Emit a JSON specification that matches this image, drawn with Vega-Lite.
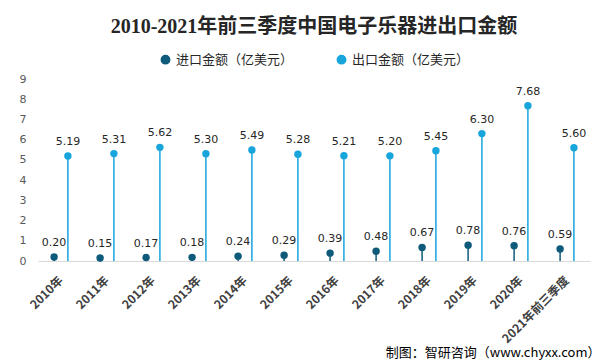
{
  "$schema": "https://vega.github.io/schema/vega-lite/v6.json",
  "width": 552,
  "height": 182,
  "autosize": {"type": "none"},
  "padding": {"left": 38, "top": 79, "right": 15, "bottom": 103},
  "background": "#ffffff",
  "title": {
    "text": "2010-2021年前三季度中国电子乐器进出口金额",
    "font": "Liberation Serif, Noto Sans CJK SC",
    "fontSize": 20,
    "fontWeight": "bold",
    "color": "#262626",
    "anchor": "middle",
    "offset": 16
  },
  "config": {
    "view": {"stroke": null},
    "legend": {"layout": {"top": {"anchor": "middle"}}}
  },
  "data": {
    "values": [
      {"year": "2010年", "type": "进口金额（亿美元）", "value": 0.20},
      {"year": "2011年", "type": "进口金额（亿美元）", "value": 0.15},
      {"year": "2012年", "type": "进口金额（亿美元）", "value": 0.17},
      {"year": "2013年", "type": "进口金额（亿美元）", "value": 0.18},
      {"year": "2014年", "type": "进口金额（亿美元）", "value": 0.24},
      {"year": "2015年", "type": "进口金额（亿美元）", "value": 0.29},
      {"year": "2016年", "type": "进口金额（亿美元）", "value": 0.39},
      {"year": "2017年", "type": "进口金额（亿美元）", "value": 0.48},
      {"year": "2018年", "type": "进口金额（亿美元）", "value": 0.67},
      {"year": "2019年", "type": "进口金额（亿美元）", "value": 0.78},
      {"year": "2020年", "type": "进口金额（亿美元）", "value": 0.76},
      {"year": "2021年前三季度", "type": "进口金额（亿美元）", "value": 0.59},
      {"year": "2010年", "type": "出口金额（亿美元）", "value": 5.19},
      {"year": "2011年", "type": "出口金额（亿美元）", "value": 5.31},
      {"year": "2012年", "type": "出口金额（亿美元）", "value": 5.62},
      {"year": "2013年", "type": "出口金额（亿美元）", "value": 5.30},
      {"year": "2014年", "type": "出口金额（亿美元）", "value": 5.49},
      {"year": "2015年", "type": "出口金额（亿美元）", "value": 5.28},
      {"year": "2016年", "type": "出口金额（亿美元）", "value": 5.21},
      {"year": "2017年", "type": "出口金额（亿美元）", "value": 5.20},
      {"year": "2018年", "type": "出口金额（亿美元）", "value": 5.45},
      {"year": "2019年", "type": "出口金额（亿美元）", "value": 6.30},
      {"year": "2020年", "type": "出口金额（亿美元）", "value": 7.68},
      {"year": "2021年前三季度", "type": "出口金额（亿美元）", "value": 5.60}
    ]
  },
  "encoding": {
    "x": {
      "field": "year",
      "type": "nominal",
      "sort": null,
      "scale": {"paddingInner": 0.4, "paddingOuter": 0.2},
      "axis": {
        "title": "制图：智研咨询（www.chyxx.com）",
        "titleAnchor": "end",
        "titleAlign": "right",
        "titleX": 562,
        "titleY": 91,
        "titleBaseline": "middle",
        "titleFont": "Noto Sans CJK SC",
        "titleFontSize": 13,
        "titleFontWeight": "normal",
        "titleColor": "#000000",
        "labelAngle": -45,
        "labelAlign": "right",
        "labelBaseline": "middle",
        "labelPadding": 17,
        "labelOverlap": false,
        "labelFont": "Noto Sans CJK SC",
        "labelFontSize": 12,
        "labelFontWeight": "bold",
        "labelColor": "#404040",
        "ticks": false,
        "domainColor": "#d9d9d9",
        "domainWidth": 1
      }
    },
    "y": {
      "field": "value",
      "type": "quantitative",
      "scale": {"domain": [0, 9], "nice": false},
      "axis": {
        "title": null,
        "tickCount": 18,
        "tickMinStep": 1,
        "labelOverlap": false,
        "grid": false,
        "ticks": false,
        "domain": false,
        "labelPadding": 12,
        "labelFont": "DejaVu Sans",
        "labelFontSize": 11,
        "labelColor": "#595959"
      }
    },
    "xOffset": {
      "field": "type",
      "type": "nominal",
      "sort": ["进口金额（亿美元）", "出口金额（亿美元）"],
      "scale": {"paddingInner": 0, "paddingOuter": 0}
    },
    "color": {
      "field": "type",
      "type": "nominal",
      "scale": {
        "domain": ["进口金额（亿美元）", "出口金额（亿美元）"],
        "range": ["#0e5a7a", "#17a5dc"]
      },
      "legend": {
        "title": null,
        "orient": "top",
        "direction": "horizontal",
        "symbolType": "circle",
        "symbolSize": 70,
        "labelFont": "Noto Sans CJK SC",
        "labelFontSize": 13,
        "labelColor": "#262626",
        "columnPadding": 40,
        "offset": 12
      }
    }
  },
  "layer": [
    {
      "mark": {"type": "rule", "strokeWidth": 1.5},
      "encoding": {
        "y2": {"datum": 0}
      }
    },
    {
      "mark": {"type": "point", "filled": true, "opacity": 1, "size": 55, "shape": "circle"},
      "encoding": {}
    },
    {
      "mark": {"type": "text", "dy": -14, "font": "DejaVu Sans", "fontSize": 11},
      "encoding": {
        "text": {"field": "value", "type": "quantitative", "format": ".2f"},
        "color": {"value": "#262626"}
      }
    }
  ]
}
